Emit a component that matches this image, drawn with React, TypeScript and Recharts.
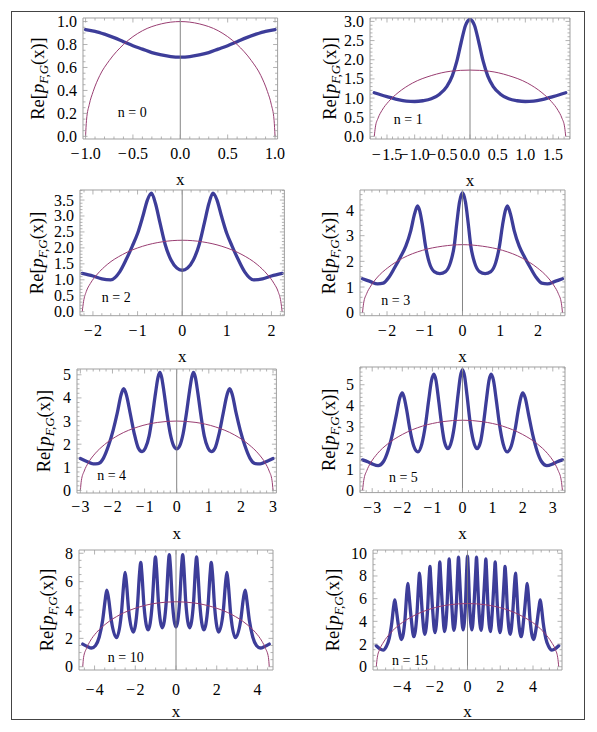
import { LineChart, Line, XAxis, YAxis, ReferenceArea, ReferenceLine, Label } from 'recharts'

type Pair = [number, number]

// blue curves: Re[p_F,G(x)]
const n0Curve: Pair[] = [[-1, 0.93], [-0.9, 0.915], [-0.8, 0.89], [-0.7, 0.86], [-0.6, 0.825], [-0.5, 0.79], [-0.4, 0.76], [-0.3, 0.73], [-0.2, 0.71], [-0.1, 0.695], [0, 0.69], [0.1, 0.695], [0.2, 0.71], [0.3, 0.73], [0.4, 0.76], [0.5, 0.79], [0.6, 0.825], [0.7, 0.86], [0.8, 0.89], [0.9, 0.915], [1, 0.93]]
const n1Curve: Pair[] = [[-1.73, 1.14], [-1.6, 1.08], [-1.45, 1.02], [-1.3, 0.96], [-1.15, 0.92], [-1, 0.91], [-0.85, 0.93], [-0.7, 0.98], [-0.55, 1.1], [-0.42, 1.3], [-0.32, 1.58], [-0.24, 1.95], [-0.16, 2.45], [-0.08, 2.9], [0, 3.05], [0.08, 2.9], [0.16, 2.45], [0.24, 1.95], [0.32, 1.58], [0.42, 1.3], [0.55, 1.1], [0.7, 0.98], [0.85, 0.93], [1, 0.91], [1.15, 0.92], [1.3, 0.96], [1.45, 1.02], [1.6, 1.08], [1.73, 1.14]]
const n2Curve: Pair[] = [[-2.24, 1.2], [-2, 1.12], [-1.8, 1.03], [-1.6, 1], [-1.4, 1.25], [-1.25, 1.65], [-1.12, 2.05], [-1, 2.45], [-0.88, 3], [-0.78, 3.5], [-0.69, 3.72], [-0.6, 3.4], [-0.5, 2.8], [-0.38, 2.1], [-0.25, 1.62], [-0.12, 1.37], [0, 1.3], [0.12, 1.37], [0.25, 1.62], [0.38, 2.1], [0.5, 2.8], [0.6, 3.4], [0.69, 3.72], [0.78, 3.5], [0.88, 3], [1, 2.45], [1.12, 2.05], [1.25, 1.65], [1.4, 1.25], [1.6, 1], [1.8, 1.03], [2, 1.12], [2.24, 1.2]]
const n3Curve: Pair[] = [[-2.65, 1.32], [-2.45, 1.22], [-2.25, 1.12], [-2.1, 1.15], [-1.95, 1.38], [-1.8, 1.75], [-1.65, 2.15], [-1.5, 2.6], [-1.37, 3.2], [-1.27, 3.85], [-1.19, 4.16], [-1.13, 3.95], [-1.06, 3.4], [-0.98, 2.6], [-0.88, 1.95], [-0.75, 1.6], [-0.6, 1.52], [-0.45, 1.6], [-0.32, 1.95], [-0.22, 2.6], [-0.15, 3.5], [-0.08, 4.3], [0, 4.68], [0.08, 4.3], [0.15, 3.5], [0.22, 2.6], [0.32, 1.95], [0.45, 1.6], [0.6, 1.52], [0.75, 1.6], [0.88, 1.95], [0.98, 2.6], [1.06, 3.4], [1.13, 3.95], [1.19, 4.16], [1.27, 3.85], [1.37, 3.2], [1.5, 2.6], [1.65, 2.15], [1.8, 1.75], [1.95, 1.38], [2.1, 1.15], [2.25, 1.12], [2.45, 1.22], [2.65, 1.32]]
const n4Curve: Pair[] = [[-3, 1.38], [-2.8, 1.25], [-2.6, 1.15], [-2.45, 1.16], [-2.28, 1.4], [-2.12, 1.95], [-1.98, 2.6], [-1.85, 3.35], [-1.73, 4.15], [-1.65, 4.4], [-1.57, 4.15], [-1.45, 3.35], [-1.32, 2.45], [-1.2, 1.85], [-1.08, 1.68], [-0.97, 1.85], [-0.86, 2.35], [-0.76, 3.2], [-0.66, 4.2], [-0.58, 4.9], [-0.52, 5.1], [-0.47, 4.9], [-0.4, 4.3], [-0.3, 3.3], [-0.2, 2.45], [-0.1, 1.95], [0, 1.8], [0.1, 1.95], [0.2, 2.45], [0.3, 3.3], [0.4, 4.3], [0.47, 4.9], [0.52, 5.1], [0.58, 4.9], [0.66, 4.2], [0.76, 3.2], [0.86, 2.35], [0.97, 1.85], [1.08, 1.68], [1.2, 1.85], [1.32, 2.45], [1.45, 3.35], [1.57, 4.15], [1.65, 4.4], [1.73, 4.15], [1.85, 3.35], [1.98, 2.6], [2.12, 1.95], [2.28, 1.4], [2.45, 1.16], [2.6, 1.15], [2.8, 1.25], [3, 1.38]]
const n5Curve: Pair[] = [[-3.32, 1.44], [-3.15, 1.35], [-3, 1.25], [-2.8, 1.17], [-2.63, 1.35], [-2.48, 1.85], [-2.33, 2.65], [-2.2, 3.55], [-2.08, 4.4], [-2, 4.61], [-1.95, 4.45], [-1.86, 3.85], [-1.75, 2.9], [-1.62, 2.1], [-1.48, 1.82], [-1.35, 2.2], [-1.23, 3.1], [-1.12, 4.3], [-1.03, 5.2], [-0.95, 5.5], [-0.88, 5.2], [-0.8, 4.35], [-0.7, 3.2], [-0.6, 2.3], [-0.48, 1.97], [-0.36, 2.35], [-0.25, 3.25], [-0.15, 4.5], [-0.07, 5.4], [0, 5.72], [0.07, 5.4], [0.15, 4.5], [0.25, 3.25], [0.36, 2.35], [0.48, 1.97], [0.6, 2.3], [0.7, 3.2], [0.8, 4.35], [0.88, 5.2], [0.95, 5.5], [1.03, 5.2], [1.12, 4.3], [1.23, 3.1], [1.35, 2.2], [1.48, 1.82], [1.62, 2.1], [1.75, 2.9], [1.86, 3.85], [1.95, 4.45], [2, 4.61], [2.08, 4.4], [2.2, 3.55], [2.33, 2.65], [2.48, 1.85], [2.63, 1.35], [2.8, 1.17], [3, 1.25], [3.15, 1.35], [3.32, 1.44]]
const n10Curve: Pair[] = [[-4.58, 1.6], [-4.35, 1.42], [-4.15, 1.32], [-3.95, 1.5], [-3.77, 2.1], [-3.6, 3.3], [-3.47, 4.8], [-3.4, 5.4], [-3.32, 4.9], [-3.17, 3.2], [-2.92, 2.05], [-2.69, 3.65], [-2.56, 5.95], [-2.5, 6.65], [-2.44, 6], [-2.32, 3.9], [-2.1, 2.45], [-1.9, 4.15], [-1.79, 6.6], [-1.73, 7.35], [-1.68, 6.65], [-1.57, 4.25], [-1.37, 2.6], [-1.17, 4.4], [-1.06, 7], [-1.01, 7.75], [-0.96, 7], [-0.86, 4.5], [-0.67, 2.75], [-0.48, 4.55], [-0.38, 7.15], [-0.33, 7.9], [-0.28, 7.2], [-0.18, 4.6], [0, 2.8], [0.18, 4.6], [0.28, 7.2], [0.33, 7.9], [0.38, 7.15], [0.48, 4.55], [0.67, 2.75], [0.86, 4.5], [0.96, 7], [1.01, 7.75], [1.06, 7], [1.17, 4.4], [1.37, 2.6], [1.57, 4.25], [1.68, 6.65], [1.73, 7.35], [1.79, 6.6], [1.9, 4.15], [2.1, 2.45], [2.32, 3.9], [2.44, 6], [2.5, 6.65], [2.56, 5.95], [2.69, 3.65], [2.92, 2.05], [3.17, 3.2], [3.32, 4.9], [3.4, 5.4], [3.47, 4.8], [3.6, 3.3], [3.77, 2.1], [3.95, 1.5], [4.15, 1.32], [4.35, 1.42], [4.58, 1.6]]
const n15Curve: Pair[] = [[-5.57, 1.85], [-5.35, 1.58], [-5.15, 1.47], [-4.95, 1.8], [-4.78, 2.5], [-4.62, 3.9], [-4.51, 5.3], [-4.44, 5.9], [-4.38, 5.4], [-4.22, 3.65], [-4.03, 2.4], [-3.82, 4.15], [-3.7, 6.6], [-3.64, 7.35], [-3.59, 6.65], [-3.44, 4.3], [-3.28, 2.65], [-3.09, 4.6], [-2.98, 7.4], [-2.93, 8.25], [-2.88, 7.45], [-2.76, 4.75], [-2.61, 2.85], [-2.44, 4.95], [-2.34, 7.95], [-2.29, 8.85], [-2.25, 7.95], [-2.13, 5.05], [-1.99, 3], [-1.83, 5.2], [-1.73, 8.3], [-1.69, 9.25], [-1.65, 8.3], [-1.53, 5.25], [-1.4, 3.1], [-1.25, 5.35], [-1.16, 8.55], [-1.12, 9.5], [-1.08, 8.55], [-0.96, 5.4], [-0.835, 3.2], [-0.68, 5.45], [-0.59, 8.7], [-0.55, 9.65], [-0.51, 8.7], [-0.4, 5.5], [-0.275, 3.25], [-0.125, 5.5], [-0.04, 8.8], [0, 9.75], [0.04, 8.8], [0.125, 5.5], [0.275, 3.25], [0.4, 5.5], [0.51, 8.7], [0.55, 9.65], [0.59, 8.7], [0.68, 5.45], [0.835, 3.2], [0.96, 5.4], [1.08, 8.55], [1.12, 9.5], [1.16, 8.55], [1.25, 5.35], [1.4, 3.1], [1.53, 5.25], [1.65, 8.3], [1.69, 9.25], [1.73, 8.3], [1.83, 5.2], [1.99, 3], [2.13, 5.05], [2.25, 7.95], [2.29, 8.85], [2.34, 7.95], [2.44, 4.95], [2.61, 2.85], [2.76, 4.75], [2.88, 7.45], [2.93, 8.25], [2.98, 7.4], [3.09, 4.6], [3.28, 2.65], [3.44, 4.3], [3.59, 6.65], [3.64, 7.35], [3.7, 6.6], [3.82, 4.15], [4.03, 2.4], [4.22, 3.65], [4.38, 5.4], [4.44, 5.9], [4.51, 5.3], [4.62, 3.9], [4.78, 2.5], [4.95, 1.8], [5.15, 1.47], [5.35, 1.58], [5.57, 1.85]]

// purple semicircles
const n0Semi: Pair[] = [[-1, 0], [-0.99, 0.14], [-0.96, 0.28], [-0.92, 0.39], [-0.85, 0.53], [-0.75, 0.66], [-0.6, 0.8], [-0.4, 0.92], [-0.2, 0.98], [0, 1], [0.2, 0.98], [0.4, 0.92], [0.6, 0.8], [0.75, 0.66], [0.85, 0.53], [0.92, 0.39], [0.96, 0.28], [0.99, 0.14], [1, 0]]
const n1Semi: Pair[] = [[-1.73, 0], [-1.71, 0.24], [-1.66, 0.48], [-1.59, 0.68], [-1.47, 0.91], [-1.3, 1.14], [-1.04, 1.39], [-0.69, 1.59], [-0.35, 1.7], [0, 1.73], [0.35, 1.7], [0.69, 1.59], [1.04, 1.39], [1.3, 1.14], [1.47, 0.91], [1.59, 0.68], [1.66, 0.48], [1.71, 0.24], [1.73, 0]]
const n2Semi: Pair[] = [[-2.24, 0], [-2.21, 0.32], [-2.15, 0.63], [-2.06, 0.88], [-1.9, 1.18], [-1.68, 1.48], [-1.34, 1.79], [-0.89, 2.05], [-0.45, 2.19], [0, 2.24], [0.45, 2.19], [0.89, 2.05], [1.34, 1.79], [1.68, 1.48], [1.9, 1.18], [2.06, 0.88], [2.15, 0.63], [2.21, 0.32], [2.24, 0]]
const n3Semi: Pair[] = [[-2.65, 0], [-2.62, 0.37], [-2.54, 0.74], [-2.43, 1.04], [-2.25, 1.39], [-1.98, 1.75], [-1.59, 2.12], [-1.06, 2.43], [-0.53, 2.59], [0, 2.65], [0.53, 2.59], [1.06, 2.43], [1.59, 2.12], [1.98, 1.75], [2.25, 1.39], [2.43, 1.04], [2.54, 0.74], [2.62, 0.37], [2.65, 0]]
const n4Semi: Pair[] = [[-3, 0], [-2.97, 0.42], [-2.88, 0.84], [-2.76, 1.18], [-2.55, 1.58], [-2.25, 1.98], [-1.8, 2.4], [-1.2, 2.75], [-0.6, 2.94], [0, 3], [0.6, 2.94], [1.2, 2.75], [1.8, 2.4], [2.25, 1.98], [2.55, 1.58], [2.76, 1.18], [2.88, 0.84], [2.97, 0.42], [3, 0]]
const n5Semi: Pair[] = [[-3.32, 0], [-3.28, 0.47], [-3.18, 0.93], [-3.05, 1.3], [-2.82, 1.75], [-2.49, 2.19], [-1.99, 2.65], [-1.33, 3.04], [-0.66, 3.25], [0, 3.32], [0.66, 3.25], [1.33, 3.04], [1.99, 2.65], [2.49, 2.19], [2.82, 1.75], [3.05, 1.3], [3.18, 0.93], [3.28, 0.47], [3.32, 0]]
const n10Semi: Pair[] = [[-4.58, 0], [-4.54, 0.65], [-4.4, 1.28], [-4.22, 1.8], [-3.9, 2.42], [-3.44, 3.03], [-2.75, 3.67], [-1.83, 4.2], [-0.92, 4.49], [0, 4.58], [0.92, 4.49], [1.83, 4.2], [2.75, 3.67], [3.44, 3.03], [3.9, 2.42], [4.22, 1.8], [4.4, 1.28], [4.54, 0.65], [4.58, 0]]
const n15Semi: Pair[] = [[-5.57, 0], [-5.51, 0.79], [-5.35, 1.56], [-5.12, 2.18], [-4.73, 2.93], [-4.18, 3.68], [-3.34, 4.45], [-2.23, 5.11], [-1.11, 5.46], [0, 5.57], [1.11, 5.46], [2.23, 5.11], [3.34, 4.45], [4.18, 3.68], [4.73, 2.93], [5.12, 2.18], [5.35, 1.56], [5.51, 0.79], [5.57, 0]]

// major tick values
const n0XTicks = [-1, -0.5, 0, 0.5, 1]
const n0YTicks = [0, 0.2, 0.4, 0.6, 0.8, 1]
const n1XTicks = [-1.5, -1, -0.5, 0, 0.5, 1, 1.5]
const n1YTicks = [0, 0.5, 1, 1.5, 2, 2.5, 3]
const n2XTicks = [-2, -1, 0, 1, 2]
const n2YTicks = [0, 0.5, 1, 1.5, 2, 2.5, 3, 3.5]
const n3XTicks = [-2, -1, 0, 1, 2]
const n3YTicks = [0, 1, 2, 3, 4]
const n4XTicks = [-3, -2, -1, 0, 1, 2, 3]
const n4YTicks = [0, 1, 2, 3, 4, 5]
const n5XTicks = [-3, -2, -1, 0, 1, 2, 3]
const n5YTicks = [0, 1, 2, 3, 4, 5]
const n10XTicks = [-4, -2, 0, 2, 4]
const n10YTicks = [0, 2, 4, 6, 8]
const n15XTicks = [-4, -2, 0, 2, 4]
const n15YTicks = [0, 2, 4, 6, 8, 10]

const BLUE = '#3d3d99'
const PURPLE = '#993d71'
const FRAME = '#a0a0a0'
const FONT = '"Liberation Serif", "Times New Roman", serif'

// space around each plot frame inside its chart
const ML = 80
const MT = 10
const MR = 12
const MB = 52
const XH = 30
const YW = 40

const panels = [
  { label: 'n = 0', curve: n0Curve, semi: n0Semi, xTicks: n0XTicks, yTicks: n0YTicks, xDomain: [-1.027, 1.027], yDomain: [-0.023, 1.031], xMinor: 0.1, yMinor: 0.05, xDec: 1, yDec: 1, frame: { l: 82.7, t: 18.3, r: 277.3, b: 139.3 }, labelAt: [49.3, 94.7], yTitleDx: 39.7, xLabelDy: 20.5 },
  { label: 'n = 1', curve: n1Curve, semi: n1Semi, xTicks: n1XTicks, yTicks: n1YTicks, xDomain: [-1.807, 1.807], yDomain: [-0.068, 3.089], xMinor: 0.1, yMinor: 0.1, xDec: 1, yDec: 1, frame: { l: 369.7, t: 18.3, r: 569.7, b: 139.3 }, labelAt: [38.3, 101.7], yTitleDx: 35, xLabelDy: 20.5 },
  { label: 'n = 2', curve: n2Curve, semi: n2Semi, xTicks: n2XTicks, yTicks: n2YTicks, xDomain: [-2.29, 2.29], yDomain: [-0.125, 3.815], xMinor: 0.2, yMinor: 0.1, xDec: 0, yDec: 1, frame: { l: 80.3, t: 190, r: 284.7, b: 315.7 }, labelAt: [36.2, 107.7], yTitleDx: 37.8, xLabelDy: 20 },
  { label: 'n = 3', curve: n3Curve, semi: n3Semi, xTicks: n3XTicks, yTicks: n3YTicks, xDomain: [-2.716, 2.716], yDomain: [-0.117, 4.78], xMinor: 0.2, yMinor: 0.2, xDec: 0, yDec: 0, frame: { l: 360.3, t: 190, r: 565.3, b: 315.7 }, labelAt: [35.7, 111], yTitleDx: 25.6, xLabelDy: 20 },
  { label: 'n = 4', curve: n4Curve, semi: n4Semi, xTicks: n4XTicks, yTicks: n4YTicks, xDomain: [-3.105, 3.105], yDomain: [-0.11, 5.25], xMinor: 0.2, yMinor: 0.2, xDec: 0, yDec: 0, frame: { l: 77.3, t: 369.3, r: 276.7, b: 493.3 }, labelAt: [34.7, 107.4], yTitleDx: 28, xLabelDy: 19 },
  { label: 'n = 5', curve: n5Curve, semi: n5Semi, xTicks: n5XTicks, yTicks: n5YTicks, xDomain: [-3.405, 3.405], yDomain: [-0.11, 5.84], xMinor: 0.2, yMinor: 0.2, xDec: 0, yDec: 0, frame: { l: 360.3, t: 366.7, r: 565.3, b: 492.3 }, labelAt: [43.4, 111], yTitleDx: 25.6, xLabelDy: 20 },
  { label: 'n = 10', curve: n10Curve, semi: n10Semi, xTicks: n10XTicks, yTicks: n10YTicks, xDomain: [-4.764, 4.764], yDomain: [-0.23, 8.23], xMinor: 0.5, yMinor: 0.5, xDec: 0, yDec: 0, frame: { l: 79.3, t: 550, r: 273.3, b: 670 }, labelAt: [46.7, 108.3], yTitleDx: 26.6, xLabelDy: 24.5 },
  { label: 'n = 15', curve: n15Curve, semi: n15Semi, xTicks: n15XTicks, yTicks: n15YTicks, xDomain: [-5.77, 5.77], yDomain: [-0.29, 10.29], xMinor: 0.5, yMinor: 0.5, xDec: 0, yDec: 0, frame: { l: 373, t: 550, r: 562, b: 670 }, labelAt: [37, 111], yTitleDx: 35, xLabelDy: 22 }
]

type PanelCfg = (typeof panels)[number]

const toPoints = (pairs: Pair[]) => pairs.map(([x, y]) => ({ x, y }))

const fmt = (v: number, dec: number) => {
  const s = Math.abs(v).toFixed(dec)
  return v < -1e-9 ? '\u2212\u200a' + s : s
}

// majors plus the unlabeled minor marks between them
function allTicks(major: number[], lo: number, hi: number, step: number) {
  const out = new Set<number>(major)
  for (let k = Math.ceil(lo / step - 1e-9); k <= Math.floor(hi / step + 1e-9); k++) {
    const v = Math.round(k * step * 1000) / 1000
    if (!major.some((m) => Math.abs(m - v) < 1e-6)) out.add(v)
  }
  return Array.from(out).sort((a, b) => a - b)
}

function Panel({ cfg }: { cfg: PanelCfg }) {
  const fw = cfg.frame.r - cfg.frame.l
  const fh = cfg.frame.b - cfg.frame.t
  const top = MT
  const bottom = MT + fh
  const left = ML
  const right = ML + fw
  const isMajor = (list: number[], v: number) => list.some((m) => Math.abs(m - v) < 1e-6)

  const xTick = (props: any) => {
    const x = props.x
    const v = props.payload.value
    const major = isMajor(cfg.xTicks, v)
    const len = major ? 4.5 : 2.5
    return (
      <g>
        <line x1={x} x2={x} y1={bottom} y2={bottom - len} stroke={FRAME} strokeWidth={0.8} />
        <line x1={x} x2={x} y1={top} y2={top + len} stroke={FRAME} strokeWidth={0.8} />
        {major && (
          <text x={x} y={bottom + cfg.xLabelDy} textAnchor="middle" fontFamily={FONT} fontSize={16} fill="#000">
            {fmt(v, cfg.xDec)}
          </text>
        )}
      </g>
    )
  }

  const yTick = (props: any) => {
    const y = props.y
    const v = props.payload.value
    const major = isMajor(cfg.yTicks, v)
    const len = major ? 4.5 : 2.5
    return (
      <g>
        <line x1={left} x2={left + len} y1={y} y2={y} stroke={FRAME} strokeWidth={0.8} />
        <line x1={right} x2={right - len} y1={y} y2={y} stroke={FRAME} strokeWidth={0.8} />
        {major && (
          <text x={left - 6} y={y + 5.5} textAnchor="end" fontFamily={FONT} fontSize={16} fill="#000">
            {fmt(v, cfg.yDec)}
          </text>
        )}
      </g>
    )
  }

  const xTitle = () => (
    <g>
      <text x={left + fw / 2} y={bottom + 46.5} textAnchor="middle" fontFamily={FONT} fontSize={17} fill="#000">
        x
      </text>
      <text x={left + cfg.labelAt[0]} y={top + cfg.labelAt[1] + 4} textAnchor="middle" fontFamily={FONT} fontSize={14} fill="#000">
        {cfg.label}
      </text>
    </g>
  )

  const yTitle = () => {
    const cx = left - cfg.yTitleDx + 1
    const cy = top + fh / 2
    return (
      <text x={cx} y={cy} transform={`rotate(-90 ${cx} ${cy})`} textAnchor="middle" fontFamily={FONT} fontSize={18.5} fill="#000">
        Re[<tspan fontStyle="italic">p</tspan>
        <tspan fontStyle="italic" fontSize={13} dy={4}>F,G</tspan>
        <tspan dy={-4}>(x)]</tspan>
      </text>
    )
  }

  return (
    <LineChart
      width={fw + ML + MR}
      height={fh + MT + MB}
      margin={{ top: MT, right: MR, bottom: MB - XH, left: ML - YW }}
    >
      <XAxis
        type="number"
        dataKey="x"
        domain={cfg.xDomain}
        allowDataOverflow
        ticks={allTicks(cfg.xTicks, cfg.xDomain[0], cfg.xDomain[1], cfg.xMinor)}
        interval={0}
        height={XH}
        tick={xTick}
        tickLine={false}
        axisLine={false}
      >
        <Label content={xTitle} />
      </XAxis>
      <YAxis
        type="number"
        domain={cfg.yDomain}
        allowDataOverflow
        ticks={allTicks(cfg.yTicks, cfg.yDomain[0], cfg.yDomain[1], cfg.yMinor)}
        interval={0}
        width={YW}
        tick={yTick}
        tickLine={false}
        axisLine={false}
      >
        <Label content={yTitle} />
      </YAxis>
      <ReferenceArea
        x1={cfg.xDomain[0]}
        x2={cfg.xDomain[1]}
        y1={cfg.yDomain[0]}
        y2={cfg.yDomain[1]}
        fill="none"
        stroke={FRAME}
        strokeWidth={1}
      />
      <Line
        data={toPoints(cfg.curve)}
        dataKey="y"
        type="monotone"
        stroke={BLUE}
        strokeWidth={3.3}
        strokeLinejoin="round"
        strokeLinecap="round"
        dot={false}
        isAnimationActive={false}
      />
      <Line
        data={toPoints(cfg.semi)}
        dataKey="y"
        type="monotone"
        stroke={PURPLE}
        strokeWidth={1}
        dot={false}
        isAnimationActive={false}
      />
      <ReferenceLine x={0} stroke="#777" strokeWidth={0.9} />
    </LineChart>
  )
}

export default function App() {
  return (
    <div style={{ position: 'absolute', left: 0, top: 0, width: 597, height: 732, background: '#fff' }}>
      <div style={{ position: 'absolute', left: 11, top: 11, width: 572, height: 707, border: '1px solid #444' }} />
      {panels.map((p) => (
        <div key={p.label} style={{ position: 'absolute', left: p.frame.l - ML, top: p.frame.t - MT }}>
          <Panel cfg={p} />
        </div>
      ))}
    </div>
  )
}
